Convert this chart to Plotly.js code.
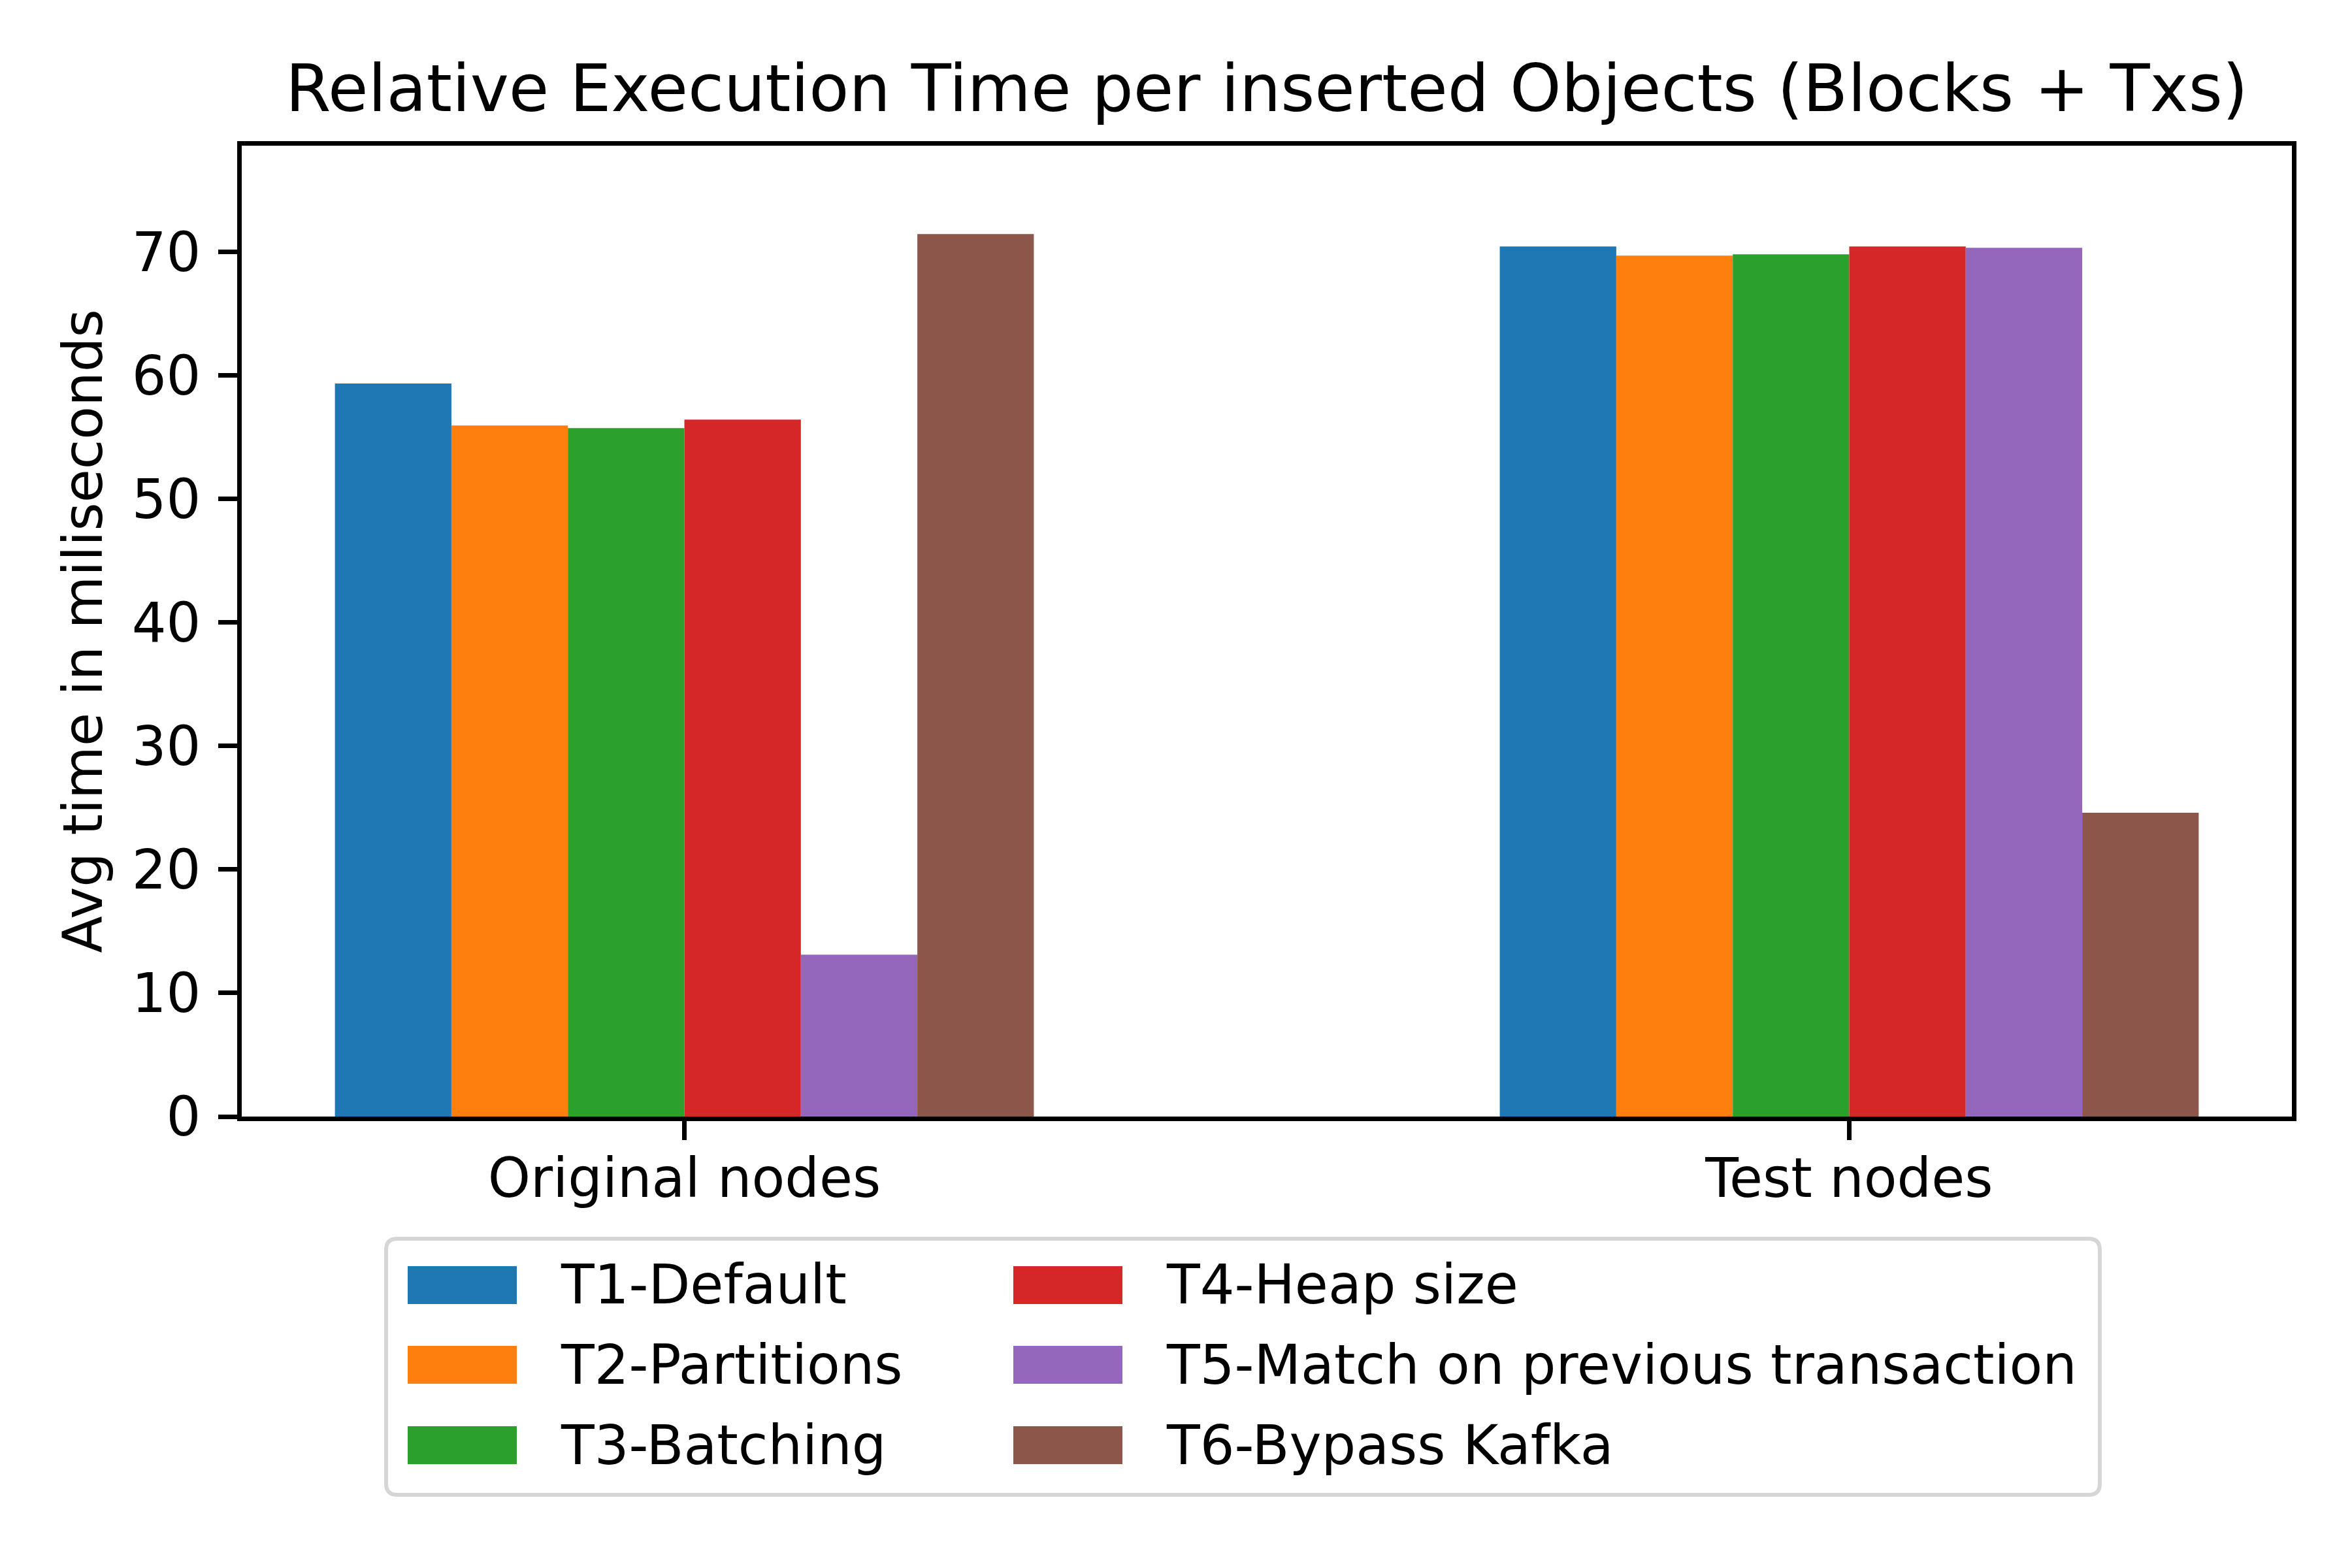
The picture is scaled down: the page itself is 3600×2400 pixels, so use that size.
<!DOCTYPE html>
<html><head><meta charset="utf-8">
<script src="https://cdn.plot.ly/plotly-3.0.1.min.js"></script>
<style>html,body{margin:0;padding:0;background:#fff}</style>
</head><body>
<div id="chart" style="width:3600px;height:2400px"></div>
<script>
// ---- data ----
const categories = ["Original nodes", "Test nodes"];
const seriesNames = ["T1-Default", "T2-Partitions", "T3-Batching", "T4-Heap size", "T5-Match on previous transaction", "T6-Bypass Kafka"];
const t1Default = [59.35, 70.44];
const t2Partitions = [55.95, 69.70];
const t3Batching = [55.74, 69.80];
const t4HeapSize = [56.42, 70.44];
const t5MatchPrev = [13.11, 70.33];
const t6BypassKafka = [71.44, 24.6];
const yTickValues = [0, 10, 20, 30, 40, 50, 60, 70];
const colors = ["#1f77b4", "#ff7f0e", "#2ca02c", "#d62728", "#9467bd", "#8c564b"];
const chartTitle = "Relative Execution Time per inserted Objects (Blocks + Txs)";
const yTitle = "Avg time in miliseconds";

const seriesValues = [t1Default, t2Partitions, t3Batching, t4HeapSize, t5MatchPrev, t6BypassKafka];

// ---- layout geometry (pixels) ----
const W = 3600, H = 2400;
const L = 370, R = 3508, T = 223, B = 1709;
const FONT = "DejaVu Sans, Liberation Sans, sans-serif";
const px2x = p => (p - L) / (R - L);
const px2y = p => (B - p) / (B - T);

const traces = seriesNames.map((name, i) => ({
  type: "bar",
  name: name,
  x: categories,
  y: seriesValues[i],
  marker: { color: colors[i], line: { width: 0 } },
  showlegend: false
}));

// manual legend (matplotlib-style, column-major 2 columns)
const shapes = [];
const annotations = [];
const boxL = 591, boxR = 3214, boxT = 1896, boxB = 2288, rad = 17;
shapes.push({
  type: "path", xref: "paper", yref: "paper",
  path: `M${px2x(boxL + rad)},${px2y(boxT)} L${px2x(boxR - rad)},${px2y(boxT)} Q${px2x(boxR)},${px2y(boxT)} ${px2x(boxR)},${px2y(boxT + rad)} ` +
        `L${px2x(boxR)},${px2y(boxB - rad)} Q${px2x(boxR)},${px2y(boxB)} ${px2x(boxR - rad)},${px2y(boxB)} ` +
        `L${px2x(boxL + rad)},${px2y(boxB)} Q${px2x(boxL)},${px2y(boxB)} ${px2x(boxL)},${px2y(boxB - rad)} ` +
        `L${px2x(boxL)},${px2y(boxT + rad)} Q${px2x(boxL)},${px2y(boxT)} ${px2x(boxL + rad)},${px2y(boxT)} Z`,
  line: { color: "#d6d6d6", width: 6 },
  fillcolor: "rgba(255,255,255,0.8)"
});
const rowY = [1967, 2089, 2212];
const colPatchX = [624, 1551];
const patchW = 167, patchH = 58;
const colTextX = [856, 1783];
seriesNames.forEach((name, i) => {
  const col = Math.floor(i / 3), row = i % 3;
  const cy = rowY[row];
  shapes.push({
    type: "rect", xref: "paper", yref: "paper",
    x0: px2x(colPatchX[col]), x1: px2x(colPatchX[col] + patchW),
    y0: px2y(cy - patchH / 2), y1: px2y(cy + patchH / 2),
    fillcolor: colors[i], line: { width: 0 }
  });
  annotations.push({
    xref: "paper", yref: "paper",
    x: px2x(colTextX[col]), y: px2y(cy),
    xanchor: "left", yanchor: "middle",
    text: name, showarrow: false,
    font: { family: FONT, size: 83, color: "#000" }
  });
});

const layout = {
  width: W, height: H,
  paper_bgcolor: "#ffffff", plot_bgcolor: "#ffffff",
  margin: { l: L, r: W - R, t: T, b: H - B, pad: 0 },
  font: { family: FONT, size: 83, color: "#000" },
  title: {
    text: chartTitle,
    font: { family: FONT, size: 100, color: "#000" },
    x: 0.5, xref: "paper", xanchor: "center",
    y: 1, yref: "paper", yanchor: "bottom",
    pad: { b: 53 }
  },
  barmode: "group",
  bargap: 0.4,
  bargroupgap: 0,
  showlegend: false,
  xaxis: {
    type: "category",
    range: [-0.38, 1.38],
    showline: true, linecolor: "#000", linewidth: 7, mirror: true,
    ticks: "outside", ticklen: 29, tickwidth: 7, tickcolor: "#000",
    tickfont: { family: FONT, size: 83, color: "#000" },
    showgrid: false, zeroline: false, automargin: false,
    ticklabelstandoff: -13
  },
  yaxis: {
    range: [0, 78.6],
    tickvals: yTickValues,
    ticktext: yTickValues.map(String),
    showline: true, linecolor: "#000", linewidth: 7, mirror: true,
    ticks: "outside", ticklen: 29, tickwidth: 7, tickcolor: "#000",
    tickfont: { family: FONT, size: 83, color: "#000" },
    showgrid: false, zeroline: false, automargin: false,
    ticklabelstandoff: 10,
    title: { text: yTitle, font: { family: FONT, size: 83, color: "#000" }, standoff: 20 }
  },
  shapes: shapes,
  annotations: annotations
};

Plotly.newPlot("chart", traces, layout, { displayModeBar: false, staticPlot: true });
</script>
</body></html>
